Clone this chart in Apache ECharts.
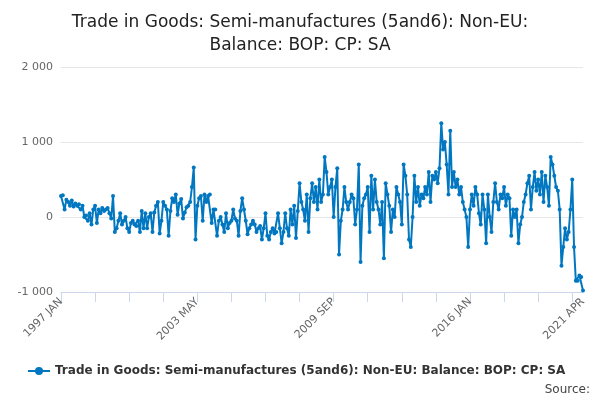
<!DOCTYPE html>
<html><head><meta charset="utf-8">
<script src="https://cdn.jsdelivr.net/npm/echarts@6/dist/echarts.min.js"></script>
<style>html,body{margin:0;padding:0;background:#fff}#c{width:600px;height:400px}</style>
</head><body><div id="c"></div>
<script>
const monthNames = ["JAN","FEB","MAR","APR","MAY","JUN","JUL","AUG","SEP","OCT","NOV","DEC"];
const startYear = 1997;
const values = [
280,290,100,230,200,150,220,140,180,150,170,100,
150,0,20,-50,50,-100,100,150,-80,100,50,120,
80,100,120,50,-20,280,-200,-150,-50,50,-100,-50,
0,-150,-200,-80,-50,-100,-120,-50,-200,80,-150,50,
-150,0,50,-200,60,150,200,-220,-50,200,150,100,
-250,80,250,200,300,30,180,240,-20,60,130,150,
200,400,660,-300,150,250,280,-50,300,200,280,300,
-80,100,100,-250,-50,0,-100,-200,50,-150,-80,-50,
100,-20,-50,-250,80,250,100,-50,-230,-150,-100,-50,
-100,-200,-150,-120,-300,-150,50,-250,-300,-200,-150,-220,
-200,50,-150,-350,-200,50,-150,-250,100,-100,150,-280,
80,450,200,100,-50,300,-200,250,450,200,400,100,
500,200,300,800,600,300,400,500,0,400,650,-500,
-50,100,400,200,100,200,300,250,-100,100,700,-600,
150,250,300,400,-200,550,100,500,200,100,-100,200,
-550,450,300,150,-200,100,0,400,300,200,-100,700,
550,300,-300,-400,0,550,200,400,150,300,250,400,
300,600,200,550,500,600,450,650,1250,900,1000,700,
300,1150,400,600,400,500,300,400,200,100,0,-400,
100,300,150,400,300,50,-100,300,100,-350,300,0,
-200,200,450,200,100,300,250,400,150,300,250,-250,
100,0,100,-350,-100,0,200,300,450,550,100,400,
600,350,500,300,600,200,550,400,150,800,700,550,
400,350,100,-650,-400,-150,-300,-200,100,500,-400,-850,
-850,-780,-800,-980
];
const categories = values.map((v,i)=> (startYear+Math.floor(i/12)) + " " + monthNames[i%12]);
const seriesName = "Trade in Goods: Semi-manufactures (5and6): Non-EU: Balance: BOP: CP: SA";
const last = categories.length-1;
const chart = echarts.init(document.getElementById('c'));
chart.setOption({
  animation:false,
  title:{text:"Trade in Goods: Semi-manufactures (5and6): Non-EU:\nBalance: BOP: CP: SA",left:'center',top:6,
    textStyle:{fontFamily:'DejaVu Sans',fontSize:17,fontWeight:'normal',color:'#222',lineHeight:23}},
  grid:{left:61,right:17,top:67,bottom:108},
  legend:{bottom:18,left:22,itemWidth:22,itemHeight:10,
    textStyle:{fontFamily:'DejaVu Sans',fontSize:12,fontWeight:'bold',color:'#333'},data:[seriesName]},
  graphic:[{type:'text',right:10,bottom:4,style:{text:'Source:',font:'12px DejaVu Sans',fill:'#444'}}],
  xAxis:{type:'category',data:categories,boundaryGap:false,
    axisLine:{onZero:false,lineStyle:{color:'#ccd6eb'}},
    axisTick:{length:10,lineStyle:{color:'#ccd6eb'},interval:function(i){return i%19===0;}},
    axisLabel:{rotate:45,color:'#666',fontFamily:'DejaVu Sans',fontSize:11,
      interval:function(i){return i%76===0||i===last;}}},
  yAxis:{type:'value',min:-1000,max:2000,interval:1000,
    axisLabel:{color:'#666',fontFamily:'DejaVu Sans',fontSize:11,formatter:v=>String(v).replace(/\B(?=(\d{3})+(?!\d))/g,' ')},
    splitLine:{lineStyle:{color:'#e6e6e6'}}},
  series:[{name:seriesName,type:'line',data:values,symbol:'circle',symbolSize:4,showSymbol:true,showAllSymbol:true,
    lineStyle:{color:'#0077c0',width:2},itemStyle:{color:'#0077c0'}}]
});
</script></body></html>
